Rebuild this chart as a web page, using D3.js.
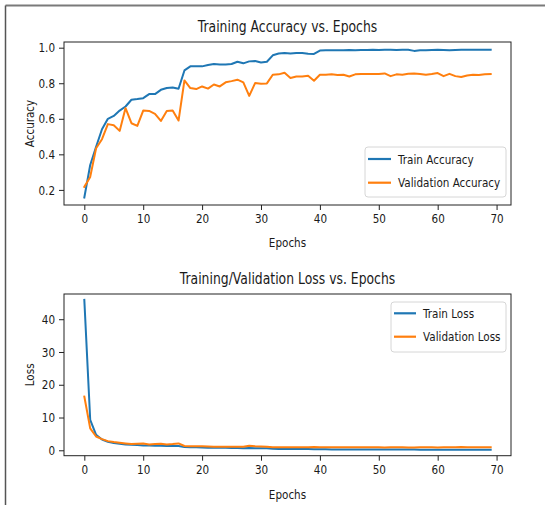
<!DOCTYPE html>
<html><head><meta charset="utf-8">
<script src="https://cdn.jsdelivr.net/npm/d3@7"></script>
<style>
body{margin:0;background:#fff;}
text{font-family:"DejaVu Sans",sans-serif;fill:#1a1a1a;}
</style></head><body>
<svg id="c" width="545" height="505"></svg>
<script>
const epochs = d3.range(70);
const trainAcc = [0.157,0.34,0.443,0.541,0.60,0.616,0.646,0.669,0.707,0.711,0.716,0.739,0.739,0.763,0.773,0.776,0.769,0.872,0.895,0.895,0.895,0.903,0.908,0.906,0.905,0.908,0.921,0.912,0.923,0.925,0.917,0.921,0.957,0.967,0.970,0.967,0.970,0.970,0.966,0.965,0.984,0.985,0.985,0.986,0.985,0.987,0.986,0.987,0.987,0.988,0.987,0.988,0.988,0.987,0.988,0.988,0.982,0.986,0.986,0.987,0.988,0.987,0.986,0.987,0.988,0.988,0.988,0.988,0.989,0.988];
const valAcc = [0.217,0.273,0.434,0.485,0.570,0.564,0.532,0.660,0.575,0.560,0.646,0.644,0.628,0.588,0.644,0.647,0.590,0.816,0.773,0.767,0.782,0.770,0.793,0.782,0.805,0.812,0.820,0.805,0.729,0.801,0.797,0.799,0.848,0.850,0.859,0.830,0.838,0.838,0.842,0.814,0.848,0.848,0.850,0.846,0.848,0.838,0.850,0.852,0.852,0.852,0.852,0.855,0.840,0.850,0.848,0.853,0.855,0.852,0.848,0.852,0.857,0.840,0.853,0.840,0.835,0.843,0.848,0.846,0.850,0.852];
const trainLoss = [45.9,9.3,4.7,3.3,2.6,2.2,2.0,1.8,1.7,1.6,1.5,1.5,1.4,1.4,1.3,1.3,1.3,1.0,0.9,0.9,0.85,0.8,0.8,0.75,0.75,0.7,0.7,0.65,0.7,0.65,0.6,0.6,0.45,0.4,0.4,0.38,0.37,0.36,0.36,0.35,0.3,0.29,0.28,0.28,0.27,0.27,0.26,0.25,0.25,0.24,0.24,0.23,0.23,0.22,0.22,0.21,0.22,0.2,0.2,0.2,0.19,0.19,0.18,0.18,0.18,0.17,0.17,0.16,0.16,0.15];
const valLoss = [16.4,6.7,4.2,3.4,2.8,2.5,2.3,2.1,1.9,2.0,2.1,1.8,1.9,2.0,1.8,1.9,2.1,1.3,1.2,1.2,1.2,1.15,1.1,1.1,1.1,1.05,1.1,1.1,1.4,1.2,1.15,1.1,0.95,0.95,0.9,0.95,0.92,0.92,0.9,1.0,0.9,0.9,0.9,0.92,0.9,0.95,0.9,0.9,0.9,0.9,0.9,0.88,0.95,0.9,0.9,0.88,0.88,0.9,0.92,0.9,0.88,0.95,0.9,0.95,0.98,0.92,0.9,0.92,0.9,0.9];
const xTicks = [0,10,20,30,40,50,60,70];
const accTicks = [0.2,0.4,0.6,0.8,1.0];
const lossTicks = [0,10,20,30,40];

const svg = d3.select("#c");
// outer frame
svg.append("line").attr("x1",5.5).attr("y1",5.5).attr("x2",545).attr("y2",5.5).attr("stroke","#7a7a7a").attr("stroke-width",2);
svg.append("line").attr("x1",5.5).attr("y1",5.5).attr("x2",5.5).attr("y2",505).attr("stroke","#555").attr("stroke-width",1.5);

const blue="#1f77b4", orange="#ff7f0e";

function panel(opt){
  const {left,right,top,bottom,yDomain,yTicks,yFmt,series,title,ylabel,titleY,xlabY,legend} = opt;
  const x = d3.scaleLinear().domain([-3.45,72.45]).range([left,right]);
  const y = d3.scaleLinear().domain(yDomain).range([bottom,top]);
  const g = svg.append("g");
  const gx = g.append("g").attr("transform",`translate(0,${bottom})`)
    .call(d3.axisBottom(x).tickValues(xTicks).tickSize(5).tickPadding(4).tickFormat(d3.format("d")));
  const gy = g.append("g").attr("transform",`translate(${left},0)`)
    .call(d3.axisLeft(y).tickValues(yTicks).tickSize(5).tickPadding(4).tickFormat(yFmt));
  [gx,gy].forEach(a=>{a.select(".domain").remove();a.selectAll("line").attr("stroke","#222");
    a.selectAll("text").style("font-size","13px").attr("fill","#1a1a1a");});
  const line = d3.line().x((d,i)=>x(epochs[i])).y(d=>y(d));
  series.forEach(s=>{
    g.append("path").datum(s.values).attr("d",line).attr("fill","none")
      .attr("stroke",s.color).attr("stroke-width",2).attr("stroke-linejoin","round").attr("stroke-linecap","square");
  });
  g.append("rect").attr("x",left).attr("y",top).attr("width",right-left).attr("height",bottom-top)
    .attr("fill","none").attr("stroke","#222").attr("stroke-width",1);
  g.append("text").attr("x",(left+right)/2).attr("y",titleY).attr("text-anchor","middle")
    .style("font-size","15.5px").text(title);
  g.append("text").attr("x",(left+right)/2).attr("y",xlabY).attr("text-anchor","middle")
    .style("font-size","13px").text("Epochs");
  g.append("text").attr("transform",`translate(34,${(top+bottom)/2}) rotate(-90)`).attr("text-anchor","middle")
    .style("font-size","13px").text(ylabel);
  // legend
  const L = legend;
  g.append("rect").attr("x",L.x0).attr("y",L.y0).attr("width",L.x1-L.x0).attr("height",L.y1-L.y0)
    .attr("rx",3).attr("fill","#fff").attr("fill-opacity",0.8).attr("stroke","#d6d6d6");
  series.forEach((s,i)=>{
    const yy = L.rows[i];
    g.append("line").attr("x1",L.lx0).attr("x2",L.lx1).attr("y1",yy).attr("y2",yy)
      .attr("stroke",s.color).attr("stroke-width",2.2);
    g.append("text").attr("x",L.tx).attr("y",yy).attr("dy","0.35em").style("font-size","13px").text(s.name);
  });
}

panel({left:64,right:511,top:42,bottom:205,yDomain:[0.115,1.032],yTicks:accTicks,yFmt:d3.format(".1f"),
  series:[{name:"Train Accuracy",values:trainAcc,color:blue},{name:"Validation Accuracy",values:valAcc,color:orange}],
  title:"Training Accuracy vs. Epochs",ylabel:"Accuracy",titleY:32,xlabY:247,
  legend:{x0:365,x1:506,y0:147,y1:197,rows:[159,182.7],lx0:368,lx1:391,tx:398}});
panel({left:64,right:511,top:294,bottom:455.7,yDomain:[-1.65,47.7],yTicks:lossTicks,yFmt:d3.format("d"),
  series:[{name:"Train Loss",values:trainLoss,color:blue},{name:"Validation Loss",values:valLoss,color:orange}],
  title:"Training/Validation Loss vs. Epochs",ylabel:"Loss",titleY:284,xlabY:499,
  legend:{x0:391,x1:506,y0:302,y1:352,rows:[313.3,336.7],lx0:394,lx1:416,tx:423}});

// horizontal condensing of all text (reference is narrow)
const K = 0.8;
svg.selectAll("text").each(function(){
  const w = this.getComputedTextLength();
  d3.select(this).attr("textLength",w*K).attr("lengthAdjust","spacingAndGlyphs");
});
</script></body></html>
